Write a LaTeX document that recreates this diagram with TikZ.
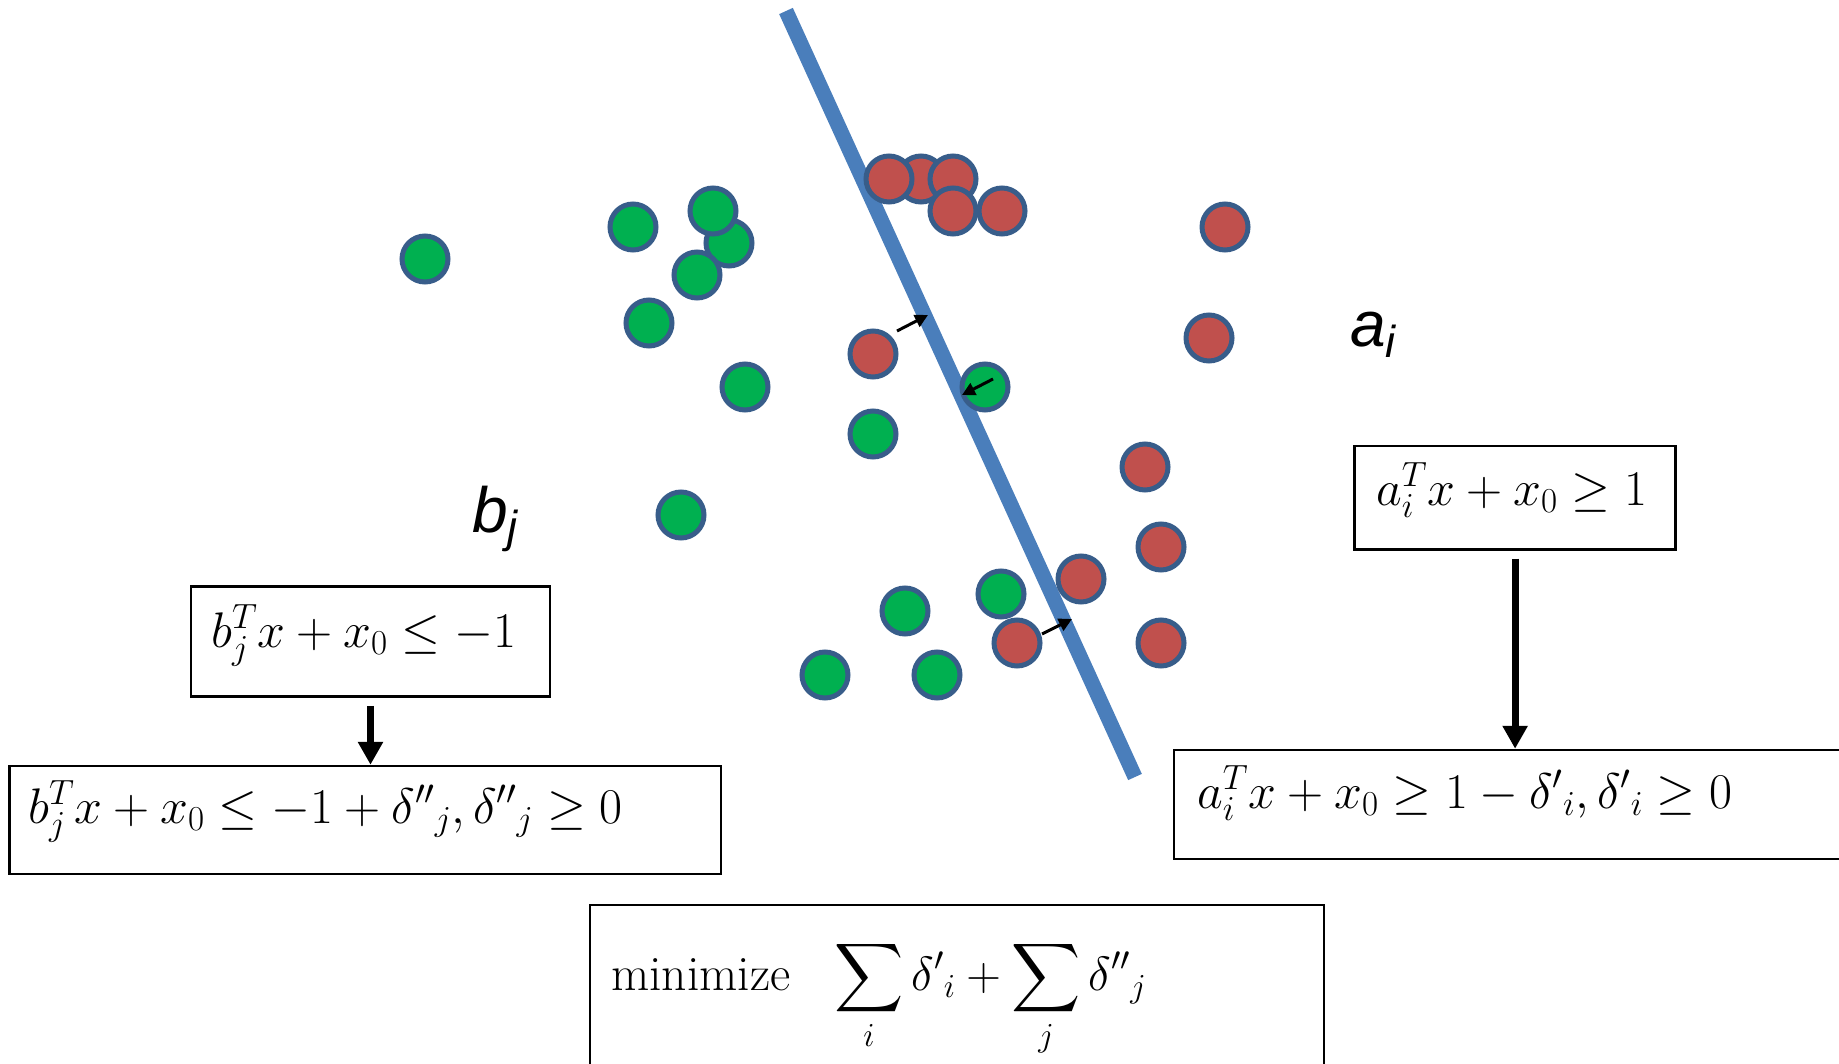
\documentclass[tikz,border=0pt]{standalone}
\usepackage{fix-cm}
\usepackage{fontspec}
\usepackage{tikz}
\usetikzlibrary{arrows.meta,calc}
\DeclareFontShape{OMX}{cmex}{m}{n}{<->cmex10}{}
\newfontfamily\lblfont{Liberation Sans}
\definecolor{svGreen}{HTML}{00B050}
\definecolor{svRed}{HTML}{C0504D}
\definecolor{svEdge}{HTML}{385D8A}
\definecolor{svLine}{HTML}{4A7EBB}
\tikzset{
  gdot/.style={circle,inner sep=0pt,minimum size=46pt,
    draw=svEdge,line width=5pt,fill=svGreen},
  rdot/.style={circle,inner sep=0pt,minimum size=46pt,
    draw=svEdge,line width=5pt,fill=svRed},
  cbox/.style={rectangle,draw=black,line width=2.5pt,inner sep=0pt},
  eq/.style={inner sep=0pt,anchor=base west,
    font=\fontsize{50}{60}\selectfont},
  lbl/.style={inner sep=0pt,anchor=base west,
    font=\lblfont\itshape\fontsize{64}{72}\selectfont},
  arr/.style={->,>={Triangle[length=13pt,width=13pt]},line width=3pt},
  arrb/.style={->,>={Triangle[length=23pt,width=24pt]},line width=7pt,
    shorten <=8pt},
}

\begin{document}
\begin{tikzpicture}[x=1pt,y=-1pt]
  \useasboundingbox (0,0) rectangle (1839,1064);
  \clip (0,0) rectangle (1839,1064);

  % Separating line
  \draw[svLine,line width=15pt] (786,11) -- (1135,777);

  % Class b (green)
  \node[gdot] (g1) at (425,259) {};
  \node[gdot] (g2) at (633,227) {};
  \node[gdot] (g3) at (729,243) {};
  \node[gdot] (g4) at (713,211) {};
  \node[gdot] (g5) at (697,275) {};
  \node[gdot] (g6) at (649,323) {};
  \node[gdot] (g7) at (745,387) {};
  \node[gdot] (g8) at (681,515) {};
  \node[gdot] (g9) at (873,434) {};
  \node[gdot] (g10) at (985,387) {};
  \node[gdot] (g11) at (1001,594) {};
  \node[gdot] (g12) at (905,611) {};
  \node[gdot] (g13) at (825,675) {};
  \node[gdot] (g14) at (937,675) {};

  % Class a (red)
  \node[rdot] (r1) at (921,179) {};
  \node[rdot] (r2) at (889,179) {};
  \node[rdot] (r3) at (953,179) {};
  \node[rdot] (r4) at (953,211) {};
  \node[rdot] (r5) at (1002,211) {};
  \node[rdot] (r6) at (873,354) {};
  \node[rdot] (r7) at (1225,227) {};
  \node[rdot] (r8) at (1209,338) {};
  \node[rdot] (r9) at (1145,467) {};
  \node[rdot] (r10) at (1161,547) {};
  \node[rdot] (r11) at (1081,579) {};
  \node[rdot] (r12) at (1017,643) {};
  \node[rdot] (r13) at (1161,643) {};

  % Slack arrows towards the line
  \coordinate (s1) at (897,331);  \coordinate (e1) at (928,315);
  \coordinate (s2) at (993,379);  \coordinate (e2) at (962,395);
  \coordinate (s3) at (1042,634); \coordinate (e3) at (1072,619);
  \draw[arr] (s1) -- (e1);
  \draw[arr] (s2) -- (e2);
  \draw[arr] (s3) -- (e3);

  % Class labels
  \node[lbl] (bj) at (472,532) {b\textsubscript{j}};
  \node[lbl] (ai) at (1350,347) {a\textsubscript{i}};

  % Constraints for b
  \node[cbox,minimum width=358.7pt,minimum height=110pt] (bb1)
    at (370.5,641.7) {};
  \node[eq] (bb1t) at (211,647) {$b_j^T x + x_0 \le -1$};
  \node[cbox,minimum width=711.6pt,minimum height=108pt] (bb2)
    at (365.2,820) {};
  \node[eq] (bb2t) at (28,823)
    {$b_j^T x + x_0 \le -1 + {\delta''}_j, {\delta''}_j \ge 0$};
  \draw[arrb] (bb1.south) -- (bb1.south |- bb2.north);

  % Constraints for a
  \node[cbox,minimum width=320.8pt,minimum height=103.5pt] (ab1)
    at (1515.1,497.7) {};
  \node[eq] (ab1t) at (1376,505) {$a_i^T x + x_0 \ge 1$};
  \node[cbox,minimum width=685.7pt,minimum height=109pt] (ab2)
    at (1517,804.5) {};
  \node[eq] (ab2t) at (1197,808)
    {$a_i^T x + x_0 \ge 1 - {\delta'}_i, {\delta'}_i \ge 0$};
  \draw[arrb] (ab1.south) -- (ab1.south |- ab2.north);

  % Objective
  \node[cbox,minimum width=734pt,minimum height=195pt] (obj)
    at (957,1002.5) {};
  \node[eq,font=\fontsize{49.5}{58}\selectfont] (objt) at (611,990)
    {minimize\hspace{44pt}\fontsize{48}{58}\selectfont
     $\displaystyle\sum_i {\delta'}_i + \sum_j {\delta''}_j$};
\end{tikzpicture}
\end{document}
